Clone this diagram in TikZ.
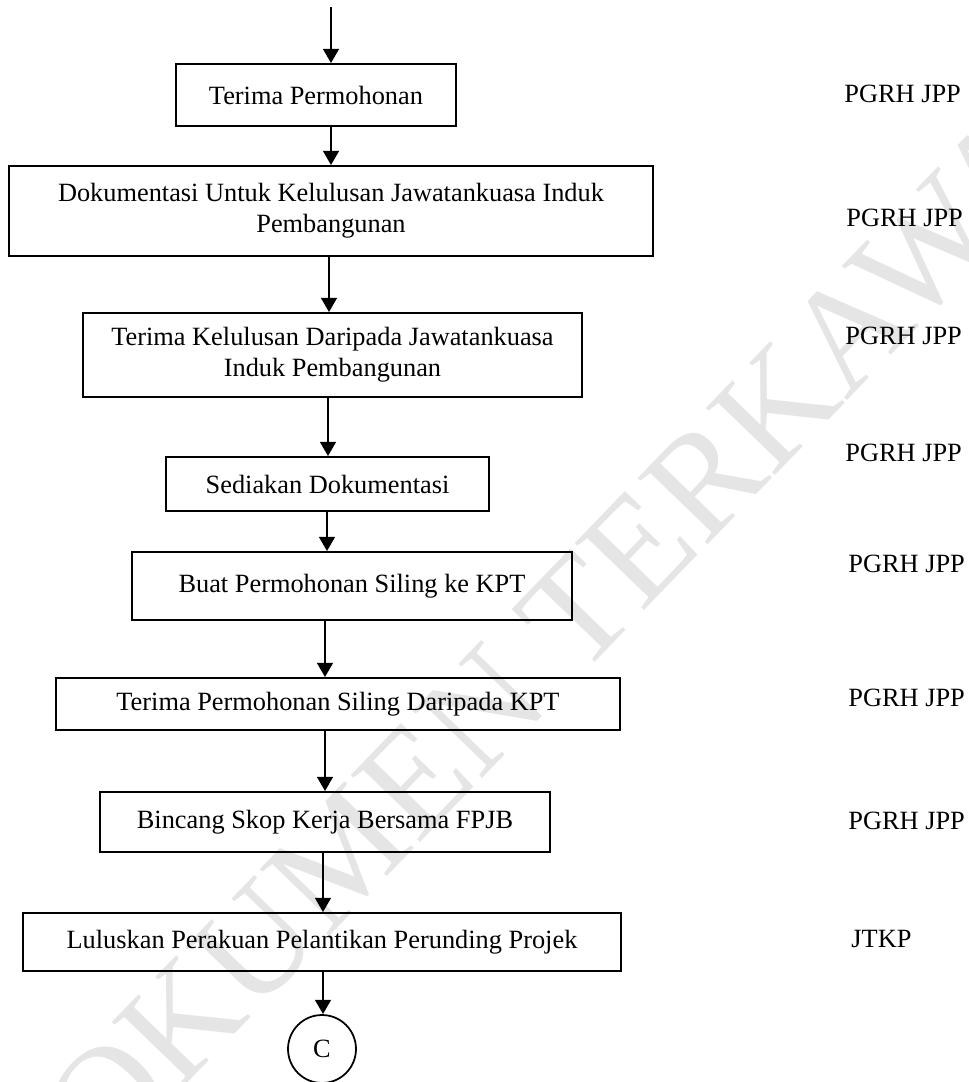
\documentclass[tikz,border=0pt]{standalone}
\usepackage{fontspec}
\setmainfont{Liberation Serif}
\usetikzlibrary{arrows.meta}

\tikzset{
  langkah/.style={draw, line width=0.8pt, align=center, inner sep=2pt,
    font=\fontsize{12}{14}\selectfont},
  arr/.style={line width=1.3pt, -{Triangle[width=0.25cm, length=0.23cm]}},
  lbl/.style={anchor=base west, inner sep=0pt, font=\fontsize{12}{14}\selectfont},
  wm/.style={rotate=46, text=black!10, inner sep=0pt, font=\fontsize{67}{67}\selectfont}
}

\begin{document}
\begin{tikzpicture}[x=0.016cm, y=-0.016cm]
    \useasboundingbox (0,0) rectangle (969,1082);
    % watermark
    \node[wm] (tanda) at (548,642) {DOKUMEN TERKAWAL};

    \node[langkah, minimum width=4.48cm, minimum height=0.992cm] (terima) at (316,95) {Terima Permohonan};
    \node[langkah, minimum width=10.304cm, minimum height=1.44cm] (dokjk) at (331,211) {Dokumentasi Untuk Kelulusan Jawatankuasa Induk\\ Pembangunan};
    \node[langkah, minimum width=7.984cm, minimum height=1.344cm] (lulus) at (332.5,355) {Terima Kelulusan Daripada Jawatankuasa\\ Induk Pembangunan};
    \node[langkah, minimum width=5.168cm, minimum height=0.864cm] (sedia) at (327.5,484) {Sediakan Dokumentasi};
    \node[langkah, minimum width=7.04cm, minimum height=1.088cm] (mohon) at (352,586) {Buat Permohonan Siling ke KPT};
    \node[langkah, minimum width=9.024cm, minimum height=0.832cm] (siling) at (338,704) {Terima Permohonan Siling Daripada KPT};
    \node[langkah, minimum width=7.2cm, minimum height=0.96cm] (skop) at (325,822) {Bincang Skop Kerja Bersama FPJB};
    \node[langkah, minimum width=9.568cm, minimum height=0.928cm] (lantik) at (322,942) {Luluskan Perakuan Pelantikan Perunding Projek};
    \node[draw, circle, line width=0.8pt, minimum size=1.088cm, inner sep=0pt,
      font=\fontsize{12}{14}\selectfont] (sambung) at (322,1049) {C};

    \coordinate (mula) at (331,7);
    \draw[arr] (mula) -- (terima.north -| mula);
    \draw[arr] (terima.south -| 331,0) -- (dokjk.north -| 331,0);
    \draw[arr] (dokjk.south -| 329,0) -- (lulus.north -| 329,0);
    \draw[arr] (lulus.south -| 328,0) -- (sedia.north -| 328,0);
    \draw[arr] (sedia.south -| 327,0) -- (mohon.north -| 327,0);
    \draw[arr] (mohon.south -| 325,0) -- (siling.north -| 325,0);
    \draw[arr] (siling.south -| 325,0) -- (skop.north -| 325,0);
    \draw[arr] (skop.south -| 323,0) -- (lantik.north -| 323,0);
    \draw[arr] (lantik.south -| 323,0) -- (sambung.north -| 323,0);

    \node[lbl] (p1) at (844,102) {PGRH JPP};
    \node[lbl] (p2) at (846,226) {PGRH JPP};
    \node[lbl] (p3) at (845,344) {PGRH JPP};
    \node[lbl] (p4) at (845,461) {PGRH JPP};
    \node[lbl] (p5) at (848,572) {PGRH JPP};
    \node[lbl] (p6) at (848,706) {PGRH JPP};
    \node[lbl] (p7) at (848,829) {PGRH JPP};
    \node[lbl] (p8) at (851,947) {JTKP};
\end{tikzpicture}
\end{document}
